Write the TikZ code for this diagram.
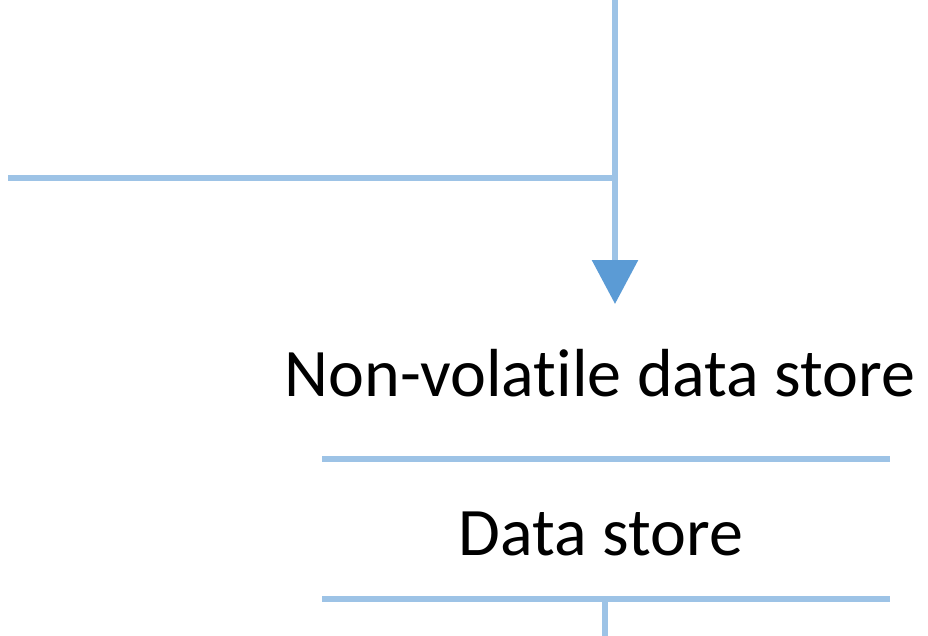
\documentclass[tikz,border=0pt]{standalone}
\usepackage{fontspec}
\setmainfont[Ligatures=NoCommon]{Carlito}
\usetikzlibrary{arrows.meta}
\definecolor{flow}{RGB}{157,195,230}
\definecolor{head}{RGB}{91,155,213}
\begin{document}
\begin{tikzpicture}[x=1pt,y=-1pt,
  flowline/.style={draw=flow,line width=6pt},
  lbl/.style={font=\fontsize{68}{80}\selectfont,text=black,inner sep=0pt,anchor=base}]
\useasboundingbox (0,0) rectangle (928,636);
\coordinate (top) at (615,0);
\coordinate (join) at (615,178);
\coordinate (left) at (8,178);
\coordinate (tip) at (615,304);
\node[lbl] (nv) at (600,396) {Non-volatile data store};
\node[lbl] (ds) at (601,555) {Data store};
\coordinate (dsTL) at (322,459);
\coordinate (dsTR) at (890,459);
\coordinate (dsBL) at (322,599);
\coordinate (dsBR) at (890,599);
\coordinate (out) at (605,636);
\draw[flowline] (left) -- (join);
\draw[flowline,-{Triangle[width=45pt,length=44pt,fill=head,color=head]}] (top) -- (tip);
\draw[flowline] (dsTL) -- (dsTR);
\draw[flowline] (dsBL) -- (dsBR);
\draw[flowline] (dsBL -| out) -- (out);
\end{tikzpicture}
\end{document}
